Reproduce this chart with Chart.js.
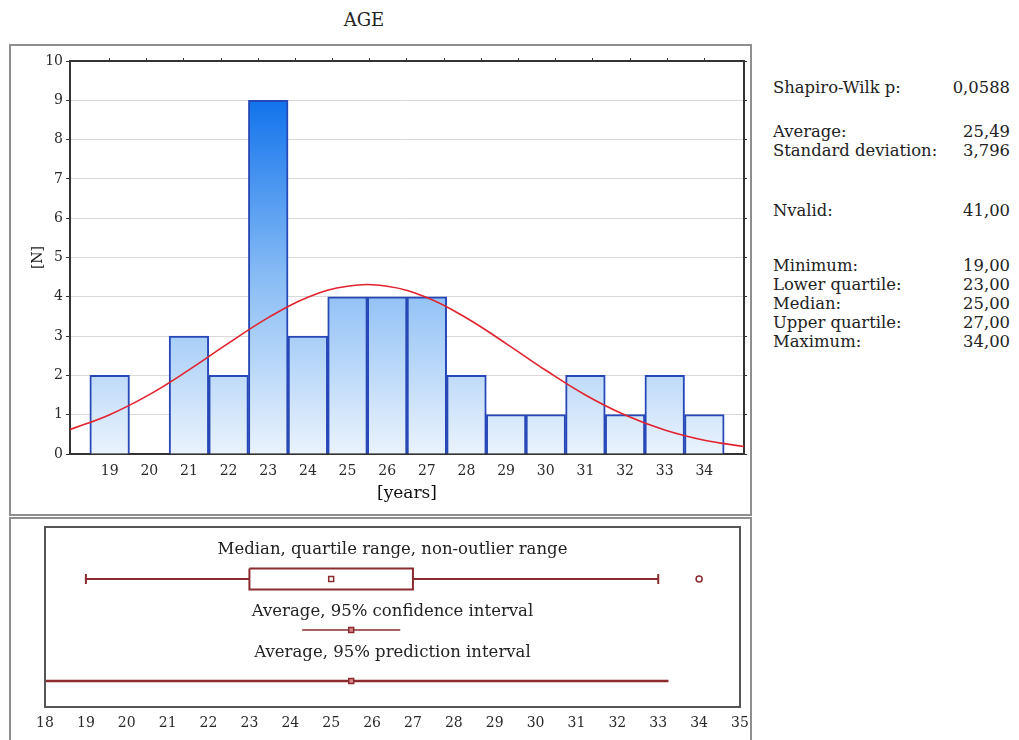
<!DOCTYPE html>
<html>
<head>
<meta charset="utf-8">
<script src="https://cdn.jsdelivr.net/npm/chart.js@4.4.0/dist/chart.umd.min.js"></script>
<style>
  body { margin: 0; background: #fff; width: 1019px; height: 740px; overflow: hidden; position: relative;
         font-family: "DejaVu Serif", "Liberation Serif", serif; color: #222; }
  #title { position: absolute; left: 0; width: 728px; top: 9px; text-align: center; font-size: 18px; }
  .panel { position: absolute; left: 9px; width: 743px; box-sizing: border-box; border: 2px solid #8f8f8f; }
  #topPanel { top: 44px; height: 472px; }
  #bottomPanel { top: 517px; height: 240px; }
  canvas { position: absolute; }
  #hist { left: 10px; top: 45px; }
  #box { left: 10px; top: 518px; }
  .stat { position: absolute; font-size: 16.4px; line-height: 20px; white-space: nowrap; }
  .stat .v { position: absolute; right: 0; }
</style>
</head>
<body>
<div id="title">AGE</div>
<div class="panel" id="topPanel"></div>
<div class="panel" id="bottomPanel"></div>
<canvas id="hist" width="740" height="468"></canvas>
<canvas id="box" width="742" height="222"></canvas>
<div id="stats"></div>
<script>
// histogram of ages (bin centre -> count)
const ageBins = [19, 20, 21, 22, 23, 24, 25, 26, 27, 28, 29, 30, 31, 32, 33, 34];
const ageCounts = [2, 0, 3, 2, 9, 3, 4, 4, 4, 2, 1, 1, 2, 1, 2, 1];

// fitted normal curve
const curveAges = [18, 19, 20, 21, 22, 23, 24, 25, 26, 27, 28, 29, 30, 31, 32, 33, 34, 35];
const curveCounts = [0.62, 1.0, 1.51, 2.14, 2.82, 3.47, 3.99, 4.27, 4.27, 3.98, 3.46, 2.81, 2.13, 1.5, 0.99, 0.61, 0.35, 0.19];

// box plot: min, lower quartile, median, upper quartile, non-outlier max
const quartileBox = [19, 23, 25, 27, 33];
const outliers = [34];
const meanAge = [25.49];
const confInterval = [24.29, 26.69];
const predInterval = [17.73, 33.25];
const boxTicks = [18, 19, 20, 21, 22, 23, 24, 25, 26, 27, 28, 29, 30, 31, 32, 33, 34, 35];

const statLabels = ['Shapiro-Wilk p:', 'Average:', 'Standard deviation:', 'Nvalid:', 'Minimum:', 'Lower quartile:', 'Median:', 'Upper quartile:', 'Maximum:'];
const statValues = ['0,0588', '25,49', '3,796', '41,00', '19,00', '23,00', '25,00', '27,00', '34,00'];
const statRowsY = [78, 122, 141, 201, 256, 275, 294, 313, 332];

const FONT = '"DejaVu Serif", serif';
const maroon = '#8c2b2e';

// stats text on the right
const stats = document.getElementById('stats');
statLabels.forEach((lab, i) => {
    const d = document.createElement('div');
    d.className = 'stat';
    d.style.left = '773px';
    d.style.width = '237px';
    d.style.top = statRowsY[i] + 'px';
    d.innerHTML = lab + '<span class="v">' + statValues[i] + '</span>';
    stats.appendChild(d);
});

function barGradient(context) {
    const chart = context.chart;
    const area = chart.chartArea;
    if (!area) return '#7fb6f2';
    const y = chart.scales.y;
    const g = chart.ctx.createLinearGradient(0, y.getPixelForValue(0), 0, y.getPixelForValue(Math.max(...ageCounts)));
    g.addColorStop(0, '#eaf3fd');
    g.addColorStop(0.5, '#88bcf5');
    g.addColorStop(1, '#1273ec');
    return g;
}

new Chart(document.getElementById('hist'), {
    type: 'bar',
    data: {
        datasets: [{
            type: 'bar',
            // empty bins are left out instead of drawn as a flat bar
            data: ageBins.map((a, i) => ({ x: a, y: ageCounts[i] || null })),
            backgroundColor: barGradient,
            borderColor: '#2748b8',
            borderWidth: 2,
            borderSkipped: 'bottom',
            barPercentage: 1,
            categoryPercentage: 1,
            order: 2
        }, {
            type: 'line',
            data: curveAges.map((a, i) => ({ x: a, y: curveCounts[i] })),
            borderColor: '#e2222e',
            borderWidth: 1.6,
            pointRadius: 0,
            tension: 0.4,
            order: 1
        }]
    },
    options: {
        responsive: false,
        animation: false,
        layout: { padding: 0 },
        plugins: { legend: { display: false }, tooltip: { enabled: false } },
        scales: {
            x: {
                type: 'linear', min: 18, max: 35, offset: false,
                afterBuildTicks: s => { s.ticks = ageBins.map(v => ({ value: v })); },
                afterFit: s => { s.height = 59; },
                grid: { display: false },
                border: { display: true, color: '#333', width: 2 },
                ticks: { font: { family: FONT, size: 14 }, color: '#2a2a2a', padding: 1, maxRotation: 0 },
                title: { display: true, text: '[years]', font: { family: FONT, size: 17 }, color: '#111', padding: { top: 0, bottom: 9 } }
            },
            x2: {
                type: 'linear', position: 'top', min: 18, max: 35,
                afterBuildTicks: s => { s.ticks = ageBins.map(v => ({ value: v })); },
                afterFit: s => { s.height = 16; },
                ticks: { display: false },
                grid: { drawOnChartArea: false, tickLength: 3, color: '#333' },
                border: { color: '#333', width: 2 }
            },
            y: {
                min: 0, max: 10,
                afterFit: s => { s.width = 60; },
                ticks: { stepSize: 1, font: { family: FONT, size: 14 }, color: '#2a2a2a', padding: 3 },
                grid: { color: '#d9d9d9', tickLength: 4, tickColor: '#333' },
                border: { color: '#333', width: 2 },
                title: { display: true, text: '[N]', font: { family: FONT, size: 14 }, color: '#111', padding: { top: 20, bottom: 0 } }
            },
            y2: {
                position: 'right', min: 0, max: 10,
                afterFit: s => { s.width = 6; },
                ticks: { display: false, stepSize: 1 },
                grid: { drawOnChartArea: false, tickLength: 3, color: '#333' },
                border: { color: '#333', width: 2 }
            }
        }
    }
});

// row positions inside the box-plot frame (layout only)
const rowBox = 52, rowCI = 103, rowPI = 154, boxHalf = 10.5;
const boxLabels = ['Median, quartile range, non-outlier range', 'Average, 95% confidence interval', 'Average, 95% prediction interval'];
const boxLabelRows = [23, 85, 126];

const framePlugin = {
    id: 'frameAndLabels',
    afterDraw(chart) {
        const { ctx, chartArea: a, scales } = chart;
        ctx.save();
        ctx.strokeStyle = '#555';
        ctx.lineWidth = 2;
        ctx.strokeRect(a.left, a.top, a.right - a.left, a.bottom - a.top);
        ctx.fillStyle = '#222';
        ctx.font = '16.5px ' + FONT;
        ctx.textAlign = 'center';
        ctx.textBaseline = 'middle';
        boxLabels.forEach((t, i) => ctx.fillText(t, (a.left + a.right) / 2, scales.y.getPixelForValue(boxLabelRows[i])));
        ctx.restore();
    }
};

const lineSet = (pts, extra) => Object.assign({
    data: pts, showLine: true, borderColor: maroon, borderWidth: 2, pointRadius: 0, tension: 0, order: 2
}, extra);
const markSet = (pts, style, r, fill) => ({
    data: pts, showLine: false, pointStyle: style, pointRadius: r, pointBackgroundColor: fill,
    pointBorderColor: maroon, pointBorderWidth: 1.5, order: 0
});

new Chart(document.getElementById('box'), {
    type: 'scatter',
    data: {
        datasets: [
            lineSet([{ x: quartileBox[0], y: rowBox }, { x: quartileBox[1], y: rowBox }],
                { pointStyle: 'line', rotation: 90, pointRadius: [5, 0], pointBorderColor: maroon, pointBorderWidth: 2 }),
            lineSet([{ x: quartileBox[3], y: rowBox }, { x: quartileBox[4], y: rowBox }],
                { pointStyle: 'line', rotation: 90, pointRadius: [0, 5], pointBorderColor: maroon, pointBorderWidth: 2 }),
            lineSet([
                { x: quartileBox[1], y: rowBox - boxHalf }, { x: quartileBox[3], y: rowBox - boxHalf },
                { x: quartileBox[3], y: rowBox + boxHalf }, { x: quartileBox[1], y: rowBox + boxHalf },
                { x: quartileBox[1], y: rowBox - boxHalf }
            ], { order: 1 }),
            markSet([{ x: quartileBox[2], y: rowBox }], 'rect', 3.5, '#fff'),
            markSet(outliers.map(v => ({ x: v, y: rowBox })), 'circle', 3, '#fff'),
            lineSet([{ x: confInterval[0], y: rowCI }, { x: confInterval[1], y: rowCI }], { borderWidth: 1.5 }),
            markSet([{ x: meanAge[0], y: rowCI }], 'rect', 3.5, '#d98a8c'),
            lineSet([{ x: predInterval[0], y: rowPI }, { x: predInterval[1], y: rowPI }], { borderWidth: 2.5 }),
            markSet([{ x: meanAge[0], y: rowPI }], 'rect', 3.5, '#d98a8c')
        ]
    },
    options: {
        responsive: false,
        animation: false,
        layout: { padding: { left: 35, right: 12, top: 9, bottom: 0 } },
        plugins: { legend: { display: false }, tooltip: { enabled: false } },
        scales: {
            x: {
                type: 'linear', min: 18, max: 35,
                afterBuildTicks: s => { s.ticks = boxTicks.map(v => ({ value: v })); },
                afterFit: s => { s.height = 33; },
                grid: { display: false },
                border: { display: false },
                ticks: { font: { family: FONT, size: 14 }, color: '#2a2a2a', padding: 0, maxRotation: 0 }
            },
            y: { min: 0, max: 180, reverse: true, display: false }
        }
    },
    plugins: [framePlugin]
});
</script>
</body>
</html>
